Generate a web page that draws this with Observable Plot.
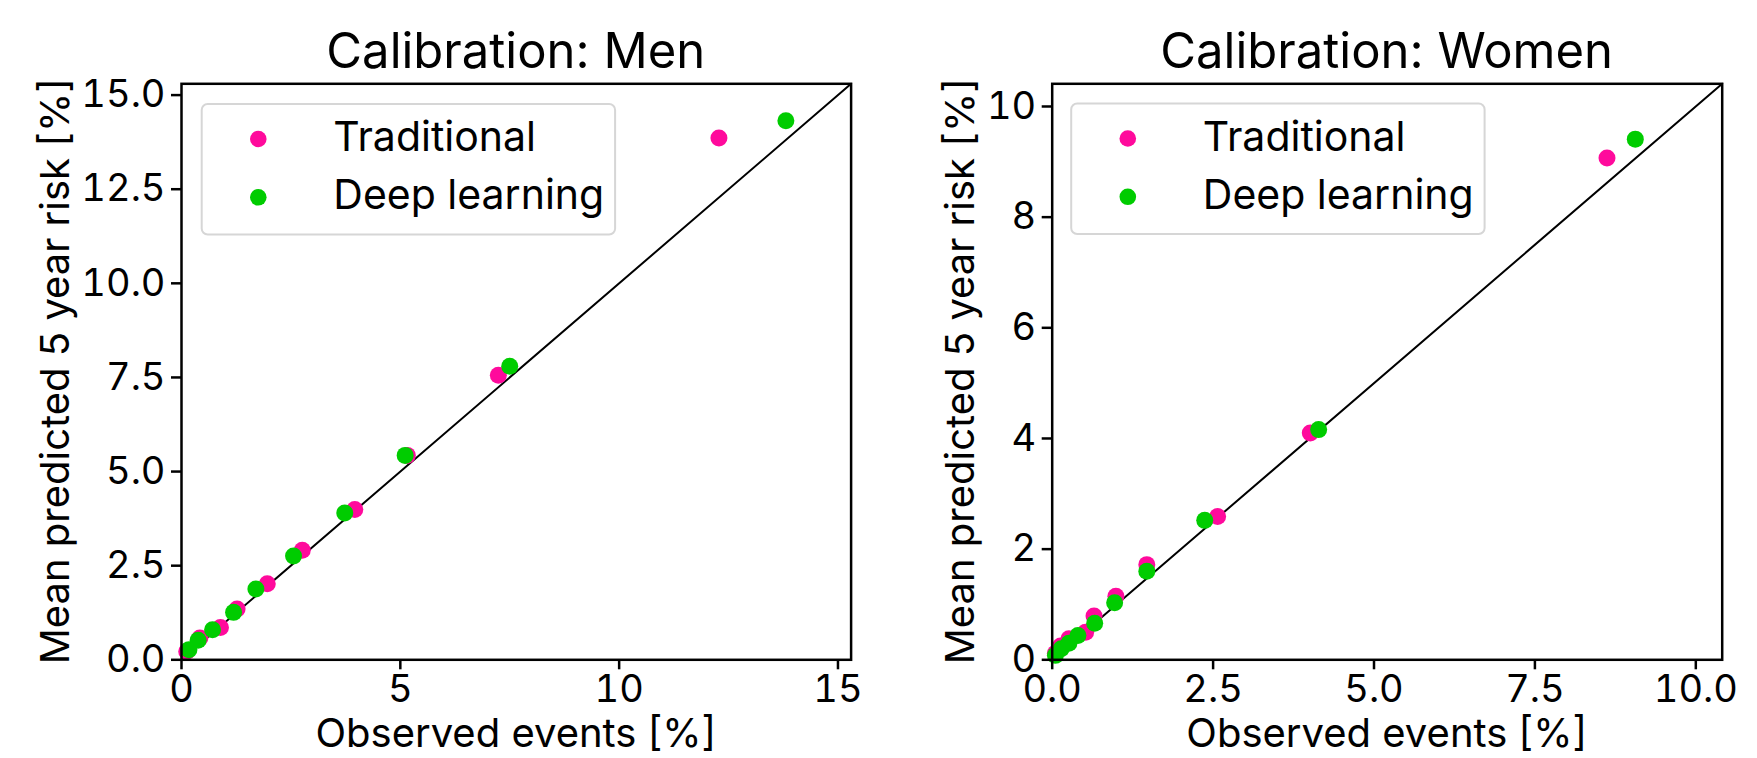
<!DOCTYPE html>
<html><head><meta charset="utf-8">
<script src="https://cdn.jsdelivr.net/npm/d3@7"></script>
<script src="https://cdn.jsdelivr.net/npm/@observablehq/plot@0.6"></script>
<style>
body{margin:0;background:#fff;}
#wrap{position:relative;width:1757px;height:758px;overflow:hidden;font-family:Inter,"DejaVu Sans",sans-serif;}
.panel{position:absolute;top:0;}
</style></head><body><div id="wrap"></div>
<script>
// ---- data ----
const seriesNames = ["Traditional", "Deep learning"];
const seriesColors = ["#ff0a9c", "#00cc00"];

const panelTitles = ["Calibration: Men", "Calibration: Women"];
const xAxisLabel = "Observed events [%]";
const yAxisLabel = "Mean predicted 5 year risk [%]";

// Men
const menTradObserved  = [0.12, 0.42, 0.89, 1.27, 1.96, 2.76, 3.96, 5.16, 7.24, 12.28];
const menTradPredicted = [0.22, 0.58, 0.86, 1.35, 2.02, 2.91, 3.99, 5.43, 7.56, 13.86];
const menDeepObserved  = [0.17, 0.38, 0.71, 1.19, 1.70, 2.56, 3.73, 5.11, 7.50, 13.81];
const menDeepPredicted = [0.27, 0.52, 0.80, 1.26, 1.88, 2.76, 3.90, 5.43, 7.80, 14.32];
const menXTicks = [0, 5, 10, 15];
const menYTicks = [0, 2.5, 5, 7.5, 10, 12.5, 15];
const menMax = 15.3;

// Women
const womenTradObserved  = [0.05, 0.13, 0.26, 0.52, 0.65, 0.99, 1.47, 2.57, 4.01, 8.62];
const womenTradPredicted = [0.12, 0.25, 0.38, 0.50, 0.79, 1.15, 1.72, 2.59, 4.10, 9.07];
const womenDeepObserved  = [0.05, 0.14, 0.26, 0.40, 0.66, 0.97, 1.47, 2.37, 4.14, 9.06];
const womenDeepPredicted = [0.08, 0.20, 0.30, 0.44, 0.66, 1.03, 1.60, 2.52, 4.16, 9.41];
const womenXTicks = [0, 2.5, 5, 7.5, 10];
const womenYTicks = [0, 2, 4, 6, 8, 10];
const womenMax = 10.41;

// ---- layout ----
const FONT = "Inter, 'DejaVu Sans', sans-serif";
const FS = 38, LFS = 40, LEGFS = 41, TFS = 49;
const H = 758, MT = 83.3, MB = 98.7;
const wrap = d3.select("#wrap");

const panels = [
  {left: 0, width: 878, ml: 181, mr: 27.4, max: menMax, xTicks: menXTicks, yTicks: menYTicks,
   xFmt: d3.format("d"), yFmt: d3.format(".1f"),
   obs: [menTradObserved, menDeepObserved], pred: [menTradPredicted, menDeepPredicted],
   title: panelTitles[0], yLabelX: 69, legend: {x: 201.7, y: 104}},
  {left: 878, width: 879, ml: 173.7, mr: 35.3, max: womenMax, xTicks: womenXTicks, yTicks: womenYTicks,
   xFmt: d3.format(".1f"), yFmt: d3.format("d"),
   obs: [womenTradObserved, womenDeepObserved], pred: [womenTradPredicted, womenDeepPredicted],
   title: panelTitles[1], yLabelX: 974, legend: {x: 1071.2, y: 103.5}}
];

panels.forEach(p => {
  const pts = [];
  seriesNames.forEach((s, si) => p.obs[si].forEach((x, i) => pts.push({series: s, x, y: p.pred[si][i]})));
  const svg = Plot.plot({
    width: p.width, height: H,
    marginLeft: p.ml, marginRight: p.mr, marginTop: MT, marginBottom: MB,
    style: {fontFamily: FONT, fontSize: FS + "px", color: "#000", background: "transparent", overflow: "visible"},
    x: {domain: [0, p.max], label: null},
    y: {domain: [0, p.max], label: null},
    color: {domain: seriesNames, range: seriesColors},
    marks: [
      Plot.line([[0, 0], [p.max, p.max]], {stroke: "#000", strokeWidth: 2}),
      Plot.dot(pts, {x: "x", y: "y", fill: "series", r: 8.5}),
      Plot.frame({stroke: "#000", strokeWidth: 2.5}),
      Plot.axisX({ticks: p.xTicks, tickFormat: p.xFmt, tickSize: 10, tickPadding: 5, strokeWidth: 2.5, fontSize: FS, label: null}),
      Plot.axisY({ticks: p.yTicks, tickFormat: p.yFmt, tickSize: 10, tickPadding: 6, strokeWidth: 2.5, fontSize: FS, label: null})
    ]
  });
  d3.select(svg).attr("class", "panel").style("left", p.left + "px");
  wrap.node().appendChild(svg);
});

// ---- overlay: titles, axis labels, legends ----
const ov = wrap.append("svg").attr("width", 1757).attr("height", H)
  .style("position", "absolute").style("left", 0).style("top", 0)
  .style("font-family", FONT);

panels.forEach(p => {
  const cx = p.left + p.ml + (p.width - p.ml - p.mr) / 2;
  const cy = MT + (H - MT - MB) / 2;
  ov.append("text").attr("x", cx).attr("y", 68).attr("text-anchor", "middle")
    .attr("font-size", TFS).text(p.title);
  ov.append("text").attr("x", cx).attr("y", 747).attr("text-anchor", "middle")
    .attr("font-size", LFS).text(xAxisLabel);
  ov.append("text").attr("transform", `translate(${p.yLabelX},${cy}) rotate(-90)`)
    .attr("text-anchor", "middle").attr("font-size", LFS).text(yAxisLabel);

  const g = ov.append("g").attr("transform", `translate(${p.legend.x},${p.legend.y})`);
  g.append("rect").attr("width", 413.4).attr("height", 130.5).attr("rx", 6)
    .attr("fill", "#fff").attr("fill-opacity", 0.8).attr("stroke", "#d6d6d6").attr("stroke-width", 2);
  seriesNames.forEach((s, i) => {
    g.append("circle").attr("cx", 56.6).attr("cy", 35 + i * 58.3).attr("r", 8.3).attr("fill", seriesColors[i]);
    g.append("text").attr("x", 131.6).attr("y", 47 + i * 58.3).attr("font-size", LEGFS).text(s);
  });
});
</script>
</body></html>
